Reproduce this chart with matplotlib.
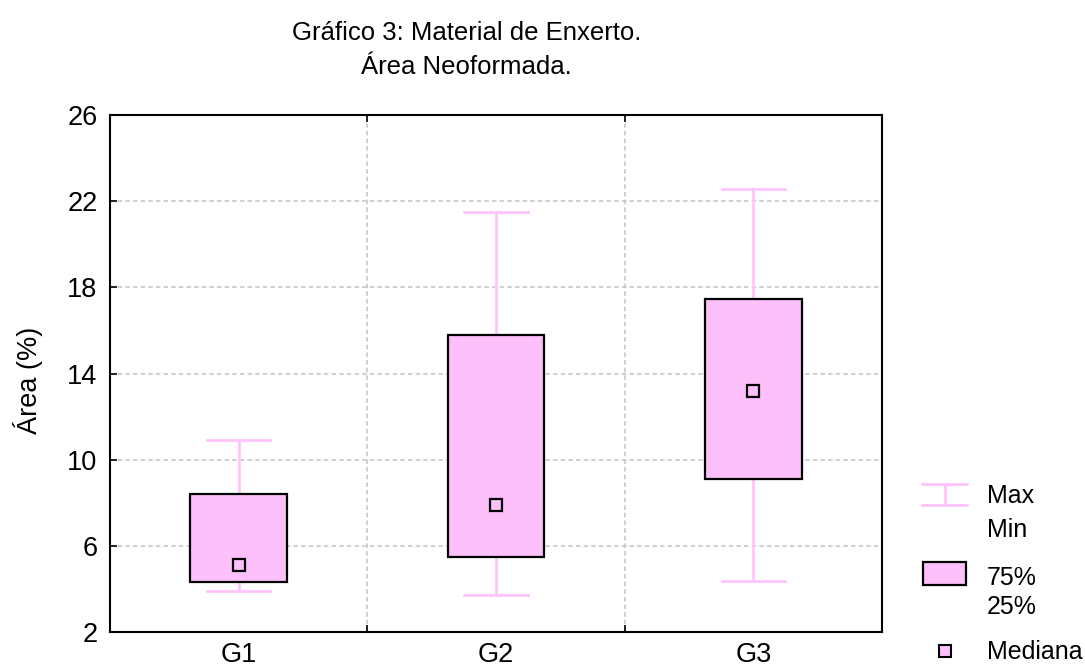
import matplotlib.pyplot as plt
from matplotlib.patches import Rectangle

plt.rcParams['font.family'] = ['Liberation Sans', 'DejaVu Sans']

# Summary statistics per group
groups = ["G1", "G2", "G3"]
minimum = [3.9, 3.7, 4.35]
q25 = [4.3, 5.5, 9.1]
median = [5.1, 7.9, 13.2]
q75 = [8.4, 15.8, 17.45]
maximum = [10.9, 21.5, 22.55]

yticks = [2, 6, 10, 14, 18, 22, 26]

box_fill = '#fdc0fb'
whisker_col = '#ffc4fd'
grid_col = '#c4c4c4'

fig = plt.figure(figsize=(10.85, 6.72), dpi=100)
ax = fig.add_axes([110 / 1085, 1 - 632 / 672, 772 / 1085, 517 / 672])

box_w = 0.375
cap_w = 0.245
for i, g in enumerate(groups):
    x = i + 1
    ax.plot([x, x], [minimum[i], q25[i]], color=whisker_col, lw=2, zorder=2)
    ax.plot([x, x], [q75[i], maximum[i]], color=whisker_col, lw=2, zorder=2)
    ax.plot([x - cap_w / 2, x + cap_w / 2], [minimum[i]] * 2, color=whisker_col, lw=2, zorder=2)
    ax.plot([x - cap_w / 2, x + cap_w / 2], [maximum[i]] * 2, color=whisker_col, lw=2, zorder=2)
    ax.add_patch(Rectangle((x - box_w / 2, q25[i]), box_w, q75[i] - q25[i],
                           facecolor=box_fill, edgecolor='black', lw=1.6, zorder=3))
    ax.plot(x, median[i], marker='s', ms=9, mfc=box_fill, mec='black', mew=1.6, zorder=4)

ax.set_xlim(0.5, 3.5)
ax.set_ylim(2, 26)
ax.set_yticks(yticks)
ax.set_xticks([1, 2, 3])
ax.set_xticklabels(groups)
ax.set_xticks([1.5, 2.5], minor=True)
ax.tick_params(axis='both', direction='in', length=5, width=1.2, labelsize=19.5, pad=9)
ax.tick_params(axis='x', which='major', length=0, pad=7)
ax.tick_params(axis='x', which='minor', direction='in', length=5, width=1.2, top=True)
ax.grid(True, axis='y', which='major', color=grid_col, ls=(0, (3, 2)), lw=1.1)
ax.grid(True, axis='x', which='minor', color=grid_col, ls=(0, (3, 2)), lw=1.1)
for s in ax.spines.values():
    s.set_linewidth(1.5)

fig.text(28 / 1085, 1 - 380 / 672, 'Área (%)', rotation=90, ha='center', va='center', fontsize=19.5)
fig.text(467 / 1085, 1 - 33 / 672, 'Gráfico 3: Material de Enxerto.', ha='center', va='center', fontsize=18.5)
fig.text(466 / 1085, 1 - 67 / 672, 'Área Neoformada.', ha='center', va='center', fontsize=18.5)

# Legend panel drawn in pixel-like coordinates
lg = fig.add_axes([0, 0, 1, 1], facecolor='none')
lg.set_xlim(0, 1085)
lg.set_ylim(672, 0)
lg.axis('off')
lg.plot([922, 967], [484, 484], color=whisker_col, lw=2)
lg.plot([922, 967], [505, 505], color=whisker_col, lw=2)
lg.plot([944.5, 944.5], [484, 505], color=whisker_col, lw=2)
lg.text(987, 496, 'Max', va='center', fontsize=18)
lg.text(987, 530, 'Min', va='center', fontsize=18)
lg.add_patch(Rectangle((923, 562), 43, 23, facecolor=box_fill, edgecolor='black', lw=1.6))
lg.text(987, 578, '75%', va='center', fontsize=18)
lg.text(987, 607, '25%', va='center', fontsize=18)
lg.plot(945, 651, marker='s', ms=8, mfc=box_fill, mec='black', mew=1.5)
lg.text(987, 652, 'Mediana', va='center', fontsize=18)

fig.savefig('out.png', dpi=100)
